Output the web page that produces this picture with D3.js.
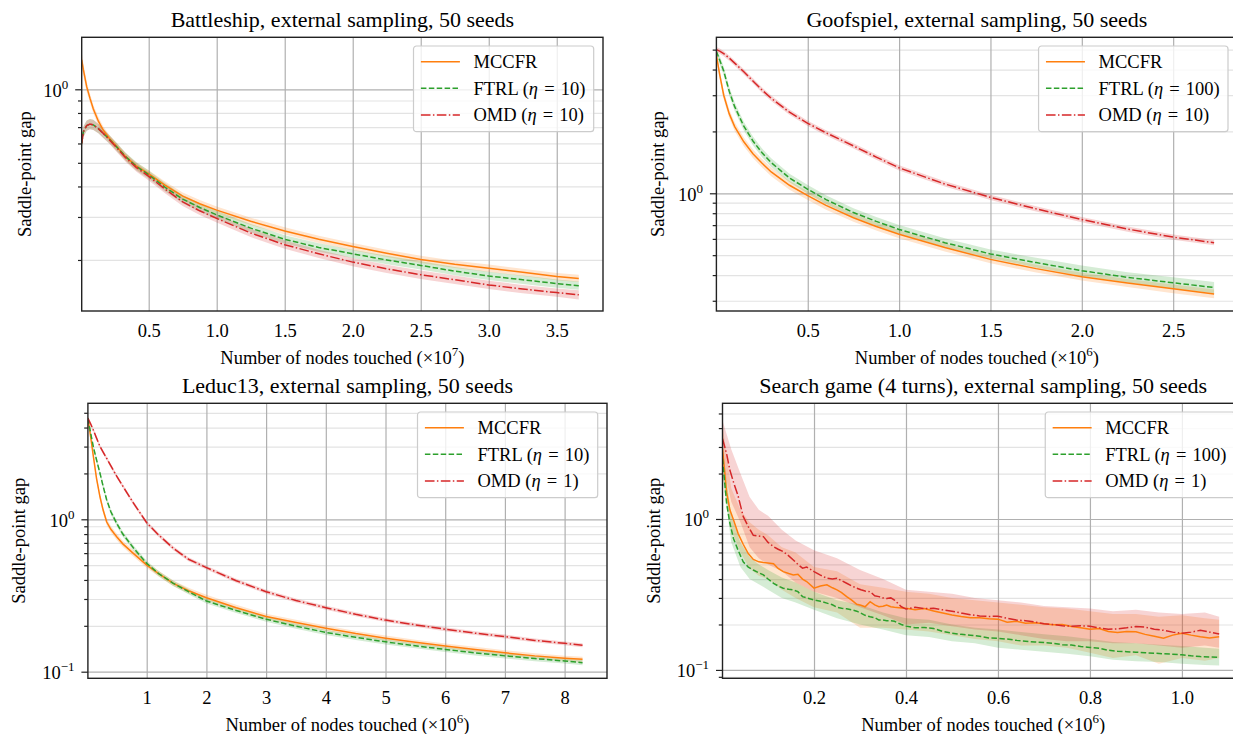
<!DOCTYPE html>
<html>
<head>
<meta charset="utf-8">
<script src="https://cdn.jsdelivr.net/npm/d3@7"></script>
<style>
  body { margin: 0; background: #fff; }
  svg text { font-family: "Liberation Serif", "Times New Roman", serif; fill: #000; }
</style>
</head>
<body>
<svg id="fig" width="1233" height="734"></svg>
<script>

// ---- data ----

// Battleship (x in 1e7 nodes)
var p1Ticks = [0.5, 1.0, 1.5, 2.0, 2.5, 3.0, 3.5];
var p1X     = [0.0074, 0.02, 0.044, 0.068, 0.093, 0.13, 0.166, 0.21, 0.265, 0.33, 0.41, 0.5, 0.62, 0.75, 0.875, 1.0, 1.25, 1.5, 1.75, 2.0, 2.25, 2.5, 2.75, 3.0, 3.25, 3.5, 3.662];
var p1Mccfr = [1.32, 1.2, 1.025, 0.92, 0.83, 0.74, 0.68, 0.63, 0.583, 0.53, 0.485, 0.45, 0.405, 0.365, 0.34, 0.32, 0.288, 0.263, 0.243, 0.227, 0.213, 0.201, 0.192, 0.185, 0.178, 0.171, 0.168];
var p1Ftrl  = [0.60, 0.67, 0.71, 0.72, 0.715, 0.69, 0.66, 0.625, 0.58, 0.53, 0.483, 0.447, 0.397, 0.355, 0.328, 0.306, 0.27, 0.243, 0.225, 0.212, 0.2, 0.19, 0.18, 0.172, 0.166, 0.16, 0.157];
var p1Omd   = [0.60, 0.67, 0.71, 0.72, 0.715, 0.69, 0.66, 0.622, 0.576, 0.525, 0.478, 0.44, 0.39, 0.346, 0.318, 0.296, 0.258, 0.231, 0.212, 0.196, 0.184, 0.174, 0.166, 0.158, 0.152, 0.147, 0.144];
var p1MccfrSd = [0.08, 0.06, 0.05, 0.045, 0.04, 0.04, 0.035, 0.035, 0.035, 0.035, 0.035, 0.035, 0.035, 0.035, 0.035, 0.035, 0.035, 0.035, 0.035, 0.035, 0.035, 0.035, 0.035, 0.035, 0.035, 0.035, 0.035];
var p1FtrlSd  = [0.05, 0.05, 0.05, 0.05, 0.05, 0.045, 0.045, 0.04, 0.04, 0.04, 0.04, 0.04, 0.04, 0.04, 0.04, 0.04, 0.04, 0.04, 0.04, 0.04, 0.04, 0.04, 0.04, 0.04, 0.04, 0.04, 0.04];
var p1OmdSd   = [0.05, 0.05, 0.05, 0.05, 0.05, 0.045, 0.045, 0.04, 0.04, 0.04, 0.04, 0.04, 0.04, 0.04, 0.04, 0.04, 0.04, 0.04, 0.04, 0.04, 0.04, 0.04, 0.04, 0.04, 0.04, 0.04, 0.045];

// Goofspiel (x in 1e6 nodes)
var p2Ticks = [0.5, 1.0, 1.5, 2.0, 2.5];
var p2X     = [0, 0.018, 0.04, 0.07, 0.1, 0.15, 0.2, 0.25, 0.3, 0.4, 0.5, 0.6, 0.75, 0.875, 1.0, 1.25, 1.5, 1.75, 2.0, 2.25, 2.5, 2.724];
var p2Mccfr = [4.7, 3.78, 3.0, 2.44, 2.11, 1.78, 1.557, 1.4, 1.27, 1.094, 0.975, 0.873, 0.76, 0.689, 0.632, 0.545, 0.477, 0.43, 0.393, 0.366, 0.343, 0.324];
var p2Ftrl  = [4.9, 4.45, 3.94, 3.14, 2.64, 2.12, 1.797, 1.574, 1.41, 1.187, 1.046, 0.932, 0.806, 0.73, 0.667, 0.575, 0.507, 0.46, 0.42, 0.39, 0.367, 0.348];
var p2Omd   = [5.0, 4.92, 4.78, 4.55, 4.3, 3.9, 3.52, 3.18, 2.9, 2.48, 2.19, 1.97, 1.7, 1.5, 1.33, 1.11, 0.955, 0.84, 0.745, 0.67, 0.612, 0.575];
var p2MccfrSd = [0.04, 0.05, 0.05, 0.05, 0.05, 0.05, 0.05, 0.05, 0.05, 0.05, 0.05, 0.05, 0.045, 0.045, 0.045, 0.045, 0.045, 0.045, 0.045, 0.045, 0.05, 0.05];
var p2FtrlSd  = [0.03, 0.05, 0.05, 0.05, 0.05, 0.05, 0.05, 0.05, 0.05, 0.05, 0.05, 0.05, 0.05, 0.05, 0.05, 0.05, 0.05, 0.055, 0.06, 0.06, 0.065, 0.065];
var p2OmdSd   = [0.03, 0.03, 0.03, 0.03, 0.03, 0.03, 0.03, 0.03, 0.03, 0.03, 0.03, 0.03, 0.03, 0.03, 0.03, 0.03, 0.03, 0.03, 0.03, 0.03, 0.03, 0.03];

// Leduc13 (x in 1e6 nodes)
var p3Ticks = [1, 2, 3, 4, 5, 6, 7, 8];
var p3X     = [0.015, 0.06, 0.106, 0.16, 0.218, 0.27, 0.33, 0.4, 0.497, 0.6, 0.776, 1.0, 1.2, 1.446, 1.7, 2.0, 2.5, 3.0, 3.5, 4, 4.5, 5, 5.5, 6, 6.5, 7, 7.5, 8, 8.3];
var p3Mccfr = [4.6, 3.5, 2.6, 1.85, 1.4, 1.15, 0.96, 0.86, 0.769, 0.69, 0.598, 0.501, 0.44, 0.38, 0.34, 0.306, 0.263, 0.23, 0.21, 0.193, 0.178, 0.166, 0.156, 0.1475, 0.14, 0.133, 0.127, 0.1225, 0.1205];
var p3Ftrl  = [4.6, 3.7, 2.99, 2.45, 2.0, 1.65, 1.34, 1.12, 0.94, 0.8, 0.65, 0.514, 0.44, 0.38, 0.335, 0.291, 0.252, 0.221, 0.199, 0.181, 0.168, 0.157, 0.148, 0.14, 0.133, 0.127, 0.122, 0.1175, 0.1146];
var p3Omd   = [4.6, 4.24, 3.85, 3.41, 3.0, 2.76, 2.51, 2.24, 1.92, 1.65, 1.28, 0.949, 0.789, 0.645, 0.547, 0.482, 0.395, 0.335, 0.293, 0.263, 0.238, 0.218, 0.203, 0.19, 0.179, 0.17, 0.1605, 0.1535, 0.149];
var p3MccfrSd = [0.03, 0.04, 0.05, 0.05, 0.05, 0.05, 0.05, 0.05, 0.05, 0.05, 0.05, 0.045, 0.045, 0.045, 0.045, 0.045, 0.045, 0.045, 0.045, 0.04, 0.04, 0.04, 0.04, 0.04, 0.04, 0.04, 0.04, 0.04, 0.04];
var p3FtrlSd  = [0.03, 0.04, 0.04, 0.04, 0.04, 0.04, 0.04, 0.04, 0.04, 0.04, 0.04, 0.04, 0.04, 0.04, 0.04, 0.04, 0.04, 0.04, 0.04, 0.04, 0.04, 0.04, 0.04, 0.04, 0.04, 0.04, 0.04, 0.04, 0.04];
var p3OmdSd   = [0.03, 0.03, 0.03, 0.03, 0.03, 0.03, 0.03, 0.03, 0.03, 0.03, 0.03, 0.03, 0.03, 0.03, 0.03, 0.03, 0.03, 0.03, 0.03, 0.03, 0.03, 0.03, 0.03, 0.03, 0.03, 0.03, 0.03, 0.03, 0.03];

// Search game (x in 1e6 nodes), noisy means
var p4Ticks = [0.2, 0.4, 0.6, 0.8, 1.0];
var p4X     = [0.001, 0.01, 0.017, 0.025, 0.035, 0.046, 0.057, 0.068, 0.08, 0.09, 0.1, 0.112, 0.122, 0.133, 0.145, 0.155, 0.165, 0.175, 0.184, 0.2, 0.214, 0.228, 0.24, 0.25, 0.26, 0.271, 0.282, 0.293, 0.302, 0.311, 0.322, 0.332, 0.341, 0.35, 0.358, 0.367, 0.375, 0.39, 0.4, 0.42, 0.44, 0.46, 0.48, 0.5, 0.52, 0.54, 0.56, 0.58, 0.6, 0.62, 0.64, 0.66, 0.68, 0.7, 0.72, 0.74, 0.76, 0.78, 0.8, 0.82, 0.84, 0.86, 0.88, 0.9, 0.92, 0.94, 0.96, 0.98, 1.0, 1.02, 1.04, 1.06, 1.081];
var p4Mccfr = [2.9, 1.5, 1.15, 0.985, 0.8, 0.68, 0.59, 0.54, 0.52, 0.514, 0.51, 0.505, 0.47, 0.448, 0.435, 0.426, 0.43, 0.4, 0.385, 0.348, 0.36, 0.366, 0.35, 0.339, 0.325, 0.306, 0.29, 0.272, 0.268, 0.262, 0.283, 0.27, 0.262, 0.264, 0.269, 0.262, 0.26, 0.257, 0.256, 0.25, 0.255, 0.246, 0.238, 0.231, 0.226, 0.222, 0.222, 0.218, 0.217, 0.207, 0.21, 0.204, 0.205, 0.202, 0.199, 0.2, 0.194, 0.19, 0.186, 0.188, 0.18, 0.177, 0.18, 0.179, 0.172, 0.167, 0.162, 0.17, 0.175, 0.17, 0.166, 0.163, 0.166];
var p4Ftrl  = [2.5, 1.27, 0.937, 0.74, 0.62, 0.52, 0.48, 0.459, 0.44, 0.426, 0.4, 0.375, 0.36, 0.348, 0.342, 0.339, 0.33, 0.306, 0.3, 0.291, 0.285, 0.277, 0.27, 0.26, 0.256, 0.254, 0.25, 0.245, 0.238, 0.23, 0.225, 0.222, 0.214, 0.214, 0.212, 0.212, 0.21, 0.2, 0.195, 0.19, 0.191, 0.188, 0.18, 0.175, 0.172, 0.17, 0.167, 0.163, 0.162, 0.16, 0.157, 0.155, 0.153, 0.152, 0.15, 0.147, 0.146, 0.143, 0.141, 0.139, 0.135, 0.133, 0.132, 0.131, 0.13, 0.129, 0.128, 0.127, 0.126, 0.124, 0.1225, 0.122, 0.121];
var p4Omd   = [3.4, 2.7, 2.11, 1.75, 1.42, 1.04, 0.89, 0.78, 0.77, 0.764, 0.7, 0.656, 0.63, 0.608, 0.57, 0.535, 0.5, 0.472, 0.48, 0.448, 0.425, 0.405, 0.4, 0.405, 0.39, 0.375, 0.36, 0.348, 0.34, 0.333, 0.33, 0.31, 0.306, 0.3, 0.297, 0.3, 0.29, 0.262, 0.253, 0.26, 0.255, 0.256, 0.25, 0.245, 0.238, 0.232, 0.228, 0.226, 0.227, 0.22, 0.214, 0.212, 0.208, 0.202, 0.2, 0.196, 0.195, 0.196, 0.195, 0.19, 0.186, 0.187, 0.19, 0.194, 0.192, 0.186, 0.183, 0.178, 0.175, 0.178, 0.183, 0.178, 0.173];
// spread bands for the search game, on a coarser grid
var p4BandX   = [0.001, 0.02, 0.04, 0.06, 0.08, 0.1, 0.13, 0.16, 0.2, 0.25, 0.3, 0.35, 0.4, 0.45, 0.5, 0.55, 0.6, 0.65, 0.7, 0.75, 0.8, 0.85, 0.9, 0.95, 1.0, 1.05, 1.081];
var p4MccfrHi = [4.2, 1.6, 1.15, 0.95, 0.85, 0.78, 0.65, 0.6, 0.48, 0.45, 0.37, 0.35, 0.33, 0.32, 0.3, 0.29, 0.28, 0.27, 0.26, 0.255, 0.245, 0.235, 0.235, 0.225, 0.23, 0.22, 0.215];
var p4MccfrLo = [2.0, 0.85, 0.6, 0.47, 0.42, 0.4, 0.34, 0.3, 0.26, 0.24, 0.19, 0.19, 0.185, 0.18, 0.17, 0.16, 0.155, 0.145, 0.145, 0.14, 0.13, 0.12, 0.125, 0.11, 0.12, 0.115, 0.12];
var p4FtrlHi  = [3.0, 1.05, 0.7, 0.56, 0.5, 0.46, 0.41, 0.38, 0.33, 0.29, 0.27, 0.24, 0.22, 0.215, 0.2, 0.19, 0.185, 0.178, 0.172, 0.167, 0.16, 0.153, 0.15, 0.147, 0.144, 0.14, 0.138];
var p4FtrlLo  = [1.9, 0.7, 0.48, 0.4, 0.37, 0.34, 0.3, 0.28, 0.25, 0.22, 0.2, 0.185, 0.17, 0.165, 0.155, 0.15, 0.14, 0.136, 0.132, 0.128, 0.123, 0.117, 0.114, 0.113, 0.11, 0.108, 0.107];
var p4OmdHi   = [4.5, 2.9, 2.0, 1.4, 1.15, 1.05, 0.85, 0.72, 0.62, 0.55, 0.46, 0.4, 0.34, 0.33, 0.32, 0.3, 0.29, 0.28, 0.265, 0.26, 0.255, 0.245, 0.25, 0.24, 0.235, 0.24, 0.225];
var p4OmdLo   = [2.4, 1.3, 0.95, 0.65, 0.55, 0.5, 0.45, 0.38, 0.33, 0.3, 0.26, 0.23, 0.2, 0.205, 0.195, 0.185, 0.18, 0.17, 0.16, 0.155, 0.155, 0.15, 0.15, 0.145, 0.14, 0.145, 0.14];

var titles = ["Battleship, external sampling, 50 seeds", "Goofspiel, external sampling, 50 seeds",
              "Leduc13, external sampling, 50 seeds", "Search game (4 turns), external sampling, 50 seeds"];
var xExponents = ["7", "6", "6", "6"];
var seriesNames = ["MCCFR", "FTRL", "OMD"];
var etas = [[null, "10", "10"], [null, "100", "10"], [null, "10", "1"], [null, "100", "1"]];

// ---- layout / style ----
var colors = ["#ff7f0e", "#2ca02c", "#d62728"];
var dashes = [null, "5.5,2.4", "9.6,2.4,1.5,2.4"];

var boxes = [
  {left: 81.7,  right: 603,    top: 37.3,  bottom: 311,   xdom: [0.0074, 3.84], ydom: [0.1236, 1.633], ylab: 51,   fmt: ".1f"},
  {left: 716.4, right: 1237.3, top: 37.3,  bottom: 311,   xdom: [0, 2.851],     ydom: [0.2675, 5.74],  ylab: 52,   fmt: ".1f"},
  {left: 87.9,  right: 607,    top: 403.3, bottom: 678.3, xdom: [0.015, 8.71],  ydom: [0.0905, 5.77],  ylab: 62.8, fmt: "d"},
  {left: 722.5, right: 1244,   top: 403.3, bottom: 678.3, xdom: [0.001, 1.135], ydom: [0.088, 5.84],   ylab: 62.8, fmt: ".1f"}
];

function meanBand(xs, m, sd) {
  return xs.map(function(x, i) { return {x: x, lo: m[i] / (1 + sd[i]), hi: m[i] * (1 + sd[i])}; });
}
function explicitBand(xs, lo, hi) {
  return xs.map(function(x, i) { return {x: x, lo: lo[i], hi: hi[i]}; });
}

var panels = [
  {x: p1X, ticks: p1Ticks, ys: [p1Mccfr, p1Ftrl, p1Omd],
   bands: [meanBand(p1X, p1Mccfr, p1MccfrSd), meanBand(p1X, p1Ftrl, p1FtrlSd), meanBand(p1X, p1Omd, p1OmdSd)]},
  {x: p2X, ticks: p2Ticks, ys: [p2Mccfr, p2Ftrl, p2Omd],
   bands: [meanBand(p2X, p2Mccfr, p2MccfrSd), meanBand(p2X, p2Ftrl, p2FtrlSd), meanBand(p2X, p2Omd, p2OmdSd)]},
  {x: p3X, ticks: p3Ticks, ys: [p3Mccfr, p3Ftrl, p3Omd],
   bands: [meanBand(p3X, p3Mccfr, p3MccfrSd), meanBand(p3X, p3Ftrl, p3FtrlSd), meanBand(p3X, p3Omd, p3OmdSd)]},
  {x: p4X, ticks: p4Ticks, ys: [p4Mccfr, p4Ftrl, p4Omd],
   bands: [explicitBand(p4BandX, p4MccfrLo, p4MccfrHi), explicitBand(p4BandX, p4FtrlLo, p4FtrlHi), explicitBand(p4BandX, p4OmdLo, p4OmdHi)]}
];

var svg = d3.select("#fig");

panels.forEach(function(p, pi) {
  var b = boxes[pi];
  var g = svg.append("g");
  var x = d3.scaleLinear().domain(b.xdom).range([b.left, b.right]);
  var y = d3.scaleLog().domain(b.ydom).range([b.bottom, b.top]);

  var yt = y.ticks();
  var major = yt.filter(function(v) { return Math.abs(Math.log10(v) - Math.round(Math.log10(v))) < 1e-9; });
  var minor = yt.filter(function(v) { return major.indexOf(v) < 0; });

  g.append("clipPath").attr("id", "clip" + pi)
    .append("rect").attr("x", b.left).attr("y", b.top)
    .attr("width", b.right - b.left).attr("height", b.bottom - b.top);

  // grid
  g.append("g").attr("transform", "translate(" + b.left + ",0)")
    .call(d3.axisLeft(y).tickValues(minor).tickSize(-(b.right - b.left)).tickFormat(""))
    .call(function(s) { s.select(".domain").remove(); s.selectAll("line").attr("stroke", "#e3e3e3").attr("stroke-width", 1.2); });
  g.append("g").attr("transform", "translate(" + b.left + ",0)")
    .call(d3.axisLeft(y).tickValues(major).tickSize(-(b.right - b.left)).tickFormat(""))
    .call(function(s) { s.select(".domain").remove(); s.selectAll("line").attr("stroke", "#b0b0b0").attr("stroke-width", 1.2); });
  g.append("g").attr("transform", "translate(0," + b.bottom + ")")
    .call(d3.axisBottom(x).tickValues(p.ticks).tickSize(-(b.bottom - b.top)).tickFormat(""))
    .call(function(s) { s.select(".domain").remove(); s.selectAll("line").attr("stroke", "#b0b0b0").attr("stroke-width", 1.2); });

  var plot = g.append("g").attr("clip-path", "url(#clip" + pi + ")");

  var area = d3.area().x(function(d) { return x(d.x); })
    .y0(function(d) { return y(d.lo); }).y1(function(d) { return y(d.hi); });
  p.bands.forEach(function(band, si) {
    plot.append("path").datum(band).attr("d", area)
      .attr("fill", colors[si]).attr("fill-opacity", 0.2).attr("stroke", "none");
  });

  var line = d3.line().x(function(d) { return x(d[0]); }).y(function(d) { return y(d[1]); });
  p.ys.forEach(function(vals, si) {
    plot.append("path").datum(d3.zip(p.x, vals)).attr("d", line)
      .attr("fill", "none").attr("stroke", colors[si]).attr("stroke-width", 1.5)
      .attr("stroke-dasharray", dashes[si]);
  });

  // spines
  g.append("rect").attr("x", b.left).attr("y", b.top)
    .attr("width", b.right - b.left).attr("height", b.bottom - b.top)
    .attr("fill", "none").attr("stroke", "#222").attr("stroke-width", 1.4);

  // y ticks
  g.append("g").attr("transform", "translate(" + b.left + ",0)")
    .call(d3.axisLeft(y).tickValues(minor).tickSize(3.7).tickFormat(""))
    .call(function(s) { s.select(".domain").remove(); s.selectAll("line").attr("stroke", "#222").attr("stroke-width", 1.2); });
  var ya = g.append("g").attr("transform", "translate(" + b.left + ",0)")
    .call(d3.axisLeft(y).tickValues(major).tickSize(6.5).tickFormat(""))
    .call(function(s) { s.select(".domain").remove(); s.selectAll("line").attr("stroke", "#222").attr("stroke-width", 1.2); });
  ya.selectAll(".tick").each(function(v) {
    var e = Math.round(Math.log10(v));
    var t = d3.select(this).append("text").attr("x", -13.4).attr("y", 7)
      .attr("text-anchor", "end").style("font-size", "18.5px");
    t.append("tspan").text("10");
    t.append("tspan").attr("dy", -8).style("font-size", "13px").text(e < 0 ? "\u2212" + (-e) : String(e));
  });

  // x tick labels
  var xa = g.append("g").attr("transform", "translate(0," + b.bottom + ")")
    .call(d3.axisBottom(x).tickValues(p.ticks).tickSize(0).tickFormat(d3.format(b.fmt)));
  xa.select(".domain").remove();
  xa.selectAll("text").attr("y", 25.5).attr("dy", null)
    .attr("font-family", null).attr("font-size", null).style("font-size", "18.5px");

  var cx = (b.left + b.right) / 2;

  // x label
  var xl = g.append("text").attr("x", cx).attr("y", b.bottom + 53)
    .attr("text-anchor", "middle").style("font-size", "18.5px");
  xl.append("tspan").text("Number of nodes touched (\u00d710");
  xl.append("tspan").attr("dy", -8).style("font-size", "13px").text(xExponents[pi]);
  xl.append("tspan").attr("dy", 8).text(")");

  // y label
  g.append("text")
    .attr("transform", "translate(" + (b.left - b.ylab) + "," + ((b.top + b.bottom) / 2) + ") rotate(-90)")
    .attr("text-anchor", "middle").style("font-size", "18.5px").text("Saddle-point gap");

  // title
  g.append("text").attr("x", cx).attr("y", b.top - 10.6)
    .attr("text-anchor", "middle").style("font-size", "22px").text(titles[pi]);

  // legend
  var lg = g.append("g");
  var frame = lg.append("rect");
  var maxW = 0;
  seriesNames.forEach(function(name, si) {
    var ry = 15.7 + si * 26.65;
    lg.append("line").attr("x1", 7.4).attr("x2", 46.4).attr("y1", ry).attr("y2", ry)
      .attr("stroke", colors[si]).attr("stroke-width", 1.5).attr("stroke-dasharray", dashes[si]);
    var t = lg.append("text").attr("x", 60).attr("y", ry + 6.3).style("font-size", "18.5px");
    t.append("tspan").text(name);
    var eta = etas[pi][si];
    if (eta) {
      t.append("tspan").text(" (");
      t.append("tspan").style("font-style", "italic").text("\u03b7");
      t.append("tspan").attr("dx", 1.5).text(" =");
      t.append("tspan").attr("dx", 1.5).text(" " + eta + ")");
    }
    maxW = Math.max(maxW, t.node().getComputedTextLength() + (eta ? 3 : 0));
  });
  var lw = 60 + maxW + 8.3, lh = 85.7;
  frame.attr("width", lw).attr("height", lh).attr("rx", 3).attr("ry", 3)
    .attr("fill", "#fff").attr("fill-opacity", 0.8).attr("stroke", "#cccccc").attr("stroke-width", 1.2);
  lg.attr("transform", "translate(" + (b.right - 9.3 - lw) + "," + (b.top + 8.7) + ")");
});

</script>
</body>
</html>
